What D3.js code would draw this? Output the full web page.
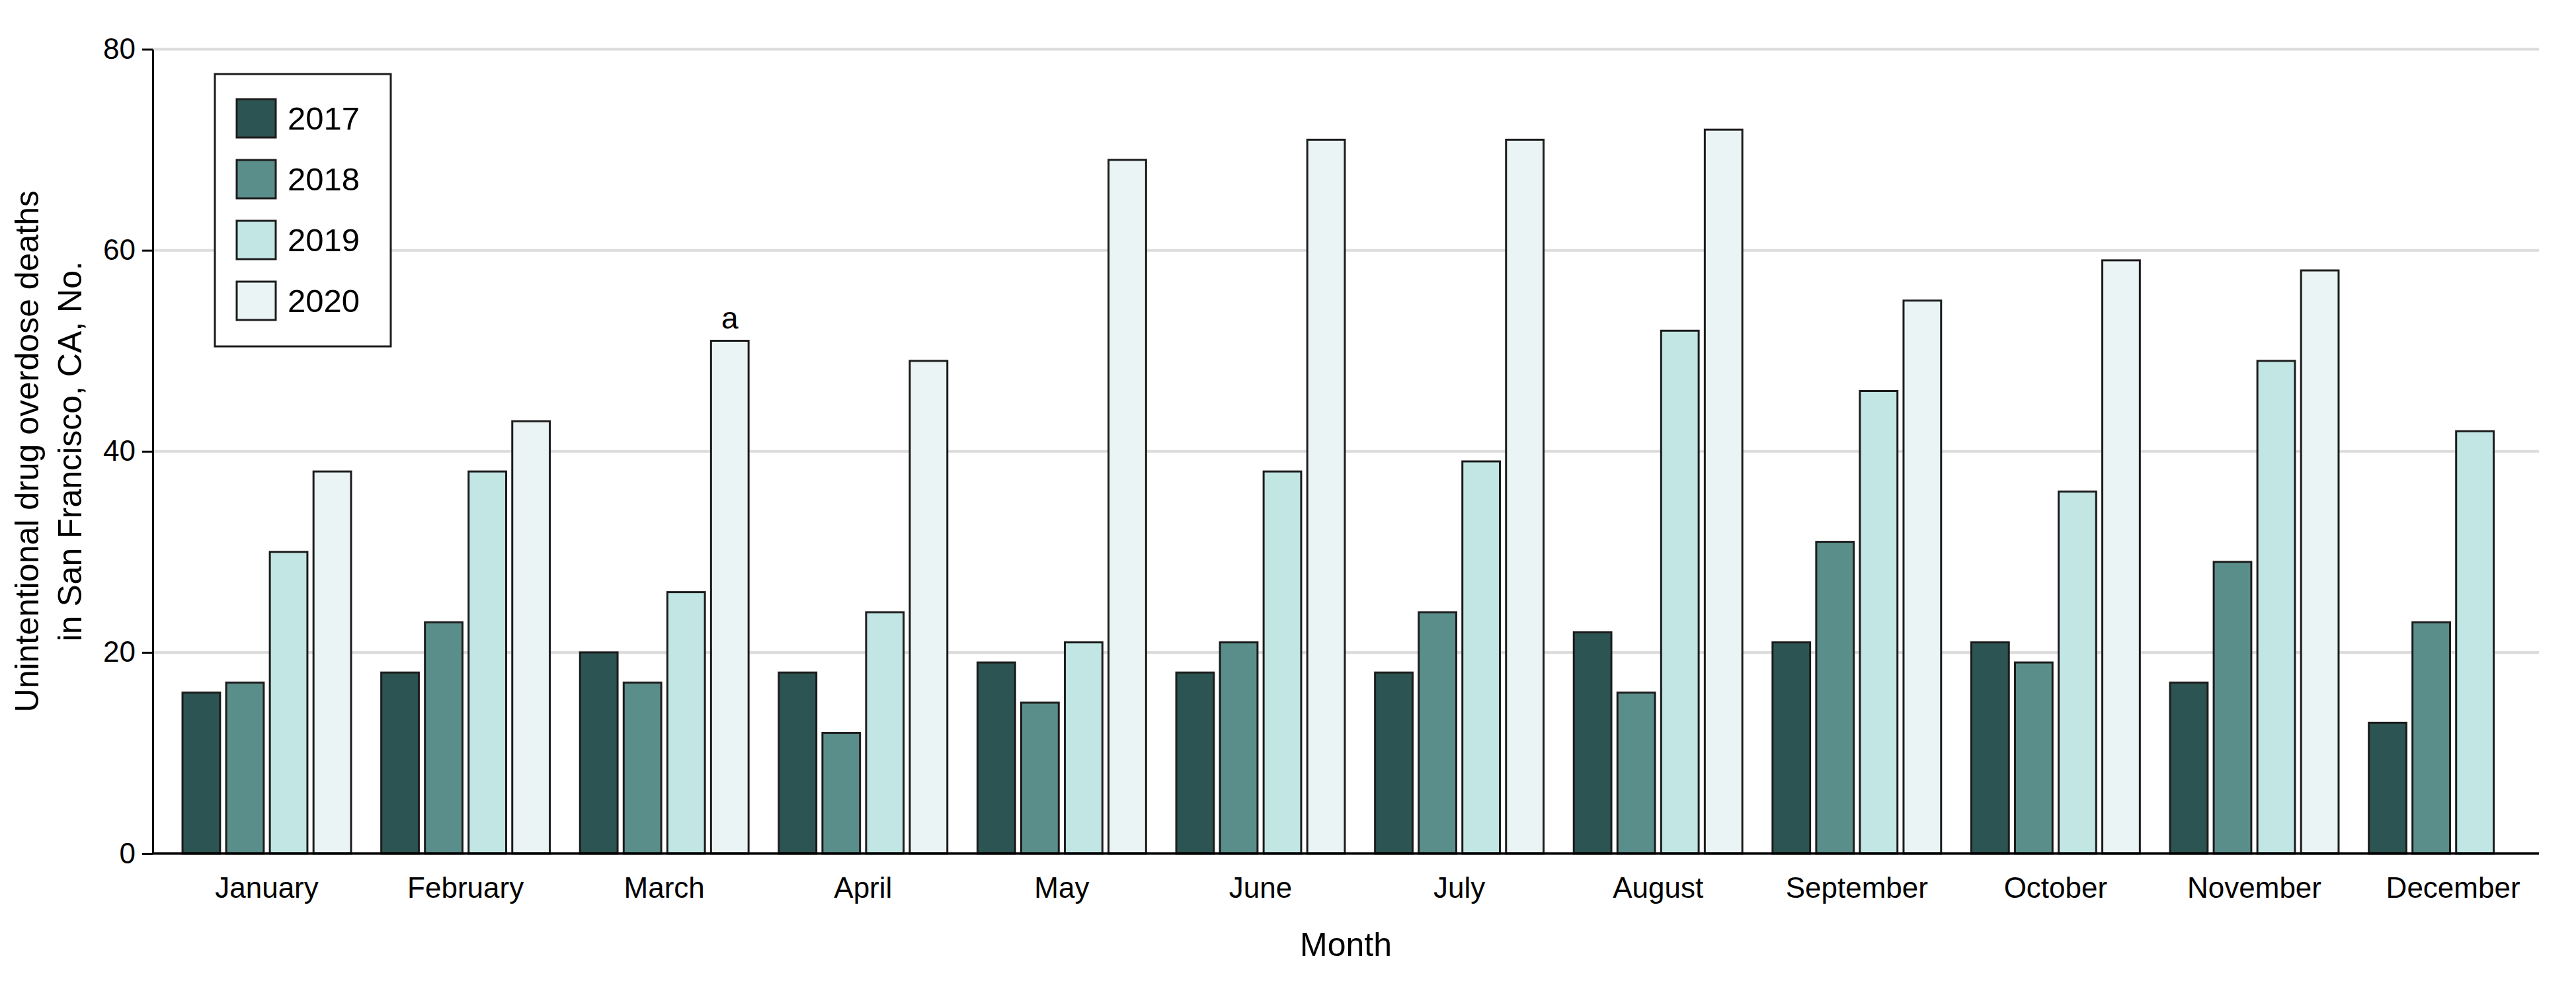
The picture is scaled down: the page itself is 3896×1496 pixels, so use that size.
<!DOCTYPE html>
<html>
<head>
<meta charset="utf-8">
<script src="https://cdn.jsdelivr.net/npm/d3@7"></script>
<style>
  body { margin: 0; background: #ffffff; }
  figure { margin: 0; }
  svg text { font-family: "Liberation Sans", Arial, sans-serif; fill: #000; }
</style>
</head>
<body>
<figure id="overdose-deaths"></figure>
<script>
// Months on the x axis
const months = ["January", "February", "March", "April", "May", "June",
  "July", "August", "September", "October", "November", "December"];
const years = ["2017", "2018", "2019", "2020"];

// Deaths per month, one array per year (no December 2020 value)
const deaths2017 = [16, 18, 20, 18, 19, 18, 18, 22, 21, 21, 17, 13];
const deaths2018 = [17, 23, 17, 12, 15, 21, 24, 16, 31, 19, 29, 23];
const deaths2019 = [30, 38, 26, 24, 21, 38, 39, 52, 46, 36, 49, 42];
const deaths2020 = [38, 43, 51, 49, 69, 71, 71, 72, 55, 59, 58, null];

const yTicks = [0, 20, 40, 60, 80];
// footnote marker sits above March 2020
const noteMonth = "March";
const noteYear = "2020";
const noteText = "a";

const yearColors = ["#2c5452", "#5a8e8b", "#c1e6e4", "#eaf4f5"];

const series = [deaths2017, deaths2018, deaths2019, deaths2020];
const rows = [];
months.forEach((m, i) => {
  years.forEach((yr, j) => {
    if (series[j][i] != null) rows.push({ month: m, year: yr, value: series[j][i] });
  });
});

const totalWidth = 3896;
const totalHeight = 1496;
const margin = { top: 74.5, right: 56, bottom: 205, left: 231 };
const width = totalWidth - margin.left - margin.right;
const height = totalHeight - margin.top - margin.bottom;

const svg = d3.select("figure#overdose-deaths")
  .append("svg")
  .attr("width", totalWidth)
  .attr("height", totalHeight)
  .append("g")
  .attr("transform", "translate(" + margin.left + "," + margin.top + ")");

// Scales
const x = d3.scaleBand()
  .domain(months)
  .range([22.2, width + 20.4])
  .paddingInner(0.152)
  .paddingOuter(0.076);

const xYear = d3.scaleBand()
  .domain(years)
  .range([0, x.bandwidth()])
  .paddingInner(0.14);

const y = d3.scaleLinear()
  .domain([0, 80])
  .range([height, 0]);

const color = d3.scaleOrdinal().domain(years).range(yearColors);

// Gridlines
svg.append("g")
  .selectAll("line")
  .data(yTicks.filter(t => t > 0))
  .enter()
  .append("line")
  .attr("x1", 0)
  .attr("x2", width)
  .attr("y1", d => y(d))
  .attr("y2", d => y(d))
  .attr("stroke", "#dcdcdc")
  .attr("stroke-width", 4);

// Bars
svg.append("g")
  .selectAll("rect")
  .data(rows)
  .enter()
  .append("rect")
  .attr("x", d => x(d.month) + xYear(d.year))
  .attr("y", d => y(d.value))
  .attr("width", xYear.bandwidth())
  .attr("height", d => height - y(d.value))
  .attr("fill", d => color(d.year))
  .attr("stroke", "#1c1c1c")
  .attr("stroke-width", 3);

// Footnote letter
const noteRow = rows.find(d => d.month === noteMonth && d.year === noteYear);
svg.append("text")
  .attr("x", x(noteMonth) + xYear(noteYear) + xYear.bandwidth() / 2)
  .attr("y", y(noteRow.value) - 18)
  .attr("text-anchor", "middle")
  .style("font-size", "46px")
  .text(noteText);

// Y axis
const yaxis = svg.append("g")
  .call(d3.axisLeft(y).tickValues(yTicks).tickSize(16).tickSizeOuter(0).tickPadding(10));
yaxis.select(".domain").attr("stroke", "#000").attr("stroke-width", 3);
yaxis.selectAll(".tick line").attr("stroke", "#000").attr("stroke-width", 3);
yaxis.selectAll("text").style("font-size", "44px").attr("font-family", null);

// X axis
const xaxis = svg.append("g")
  .attr("transform", "translate(0," + height + ")")
  .call(d3.axisBottom(x).tickSize(0).tickPadding(36));
xaxis.select(".domain").remove();
xaxis.selectAll("text").style("font-size", "44px").attr("font-family", null);

svg.append("line")
  .attr("x1", 0)
  .attr("x2", width)
  .attr("y1", height)
  .attr("y2", height)
  .attr("stroke", "#000")
  .attr("stroke-width", 3.5);

// X axis title
svg.append("text")
  .attr("text-anchor", "middle")
  .attr("x", width / 2)
  .attr("y", height + 155)
  .style("font-size", "50px")
  .text("Month");

// Y axis title (two lines)
const yTitle = svg.append("text")
  .attr("text-anchor", "middle")
  .attr("transform", "rotate(-90)")
  .style("font-size", "50px");
yTitle.append("tspan")
  .attr("x", -height / 2)
  .attr("y", 58 - margin.left)
  .text("Unintentional drug overdose deaths");
yTitle.append("tspan")
  .attr("x", -height / 2)
  .attr("y", 123 - margin.left)
  .text("in San Francisco, CA, No.");

// Legend
const legend = svg.append("g")
  .attr("transform", "translate(" + (325 - margin.left) + "," + (112 - margin.top) + ")");
legend.append("rect")
  .attr("width", 266)
  .attr("height", 412)
  .attr("fill", "#fff")
  .attr("stroke", "#1c1c1c")
  .attr("stroke-width", 3);

const items = legend.selectAll("g.item")
  .data(years)
  .enter()
  .append("g")
  .attr("class", "item")
  .attr("transform", (d, i) => "translate(33," + (38 + i * 92) + ")");
items.append("rect")
  .attr("width", 59)
  .attr("height", 58)
  .attr("fill", d => color(d))
  .attr("stroke", "#1c1c1c")
  .attr("stroke-width", 3);
items.append("text")
  .attr("x", 77)
  .attr("y", 46)
  .style("font-size", "49px")
  .text(d => d);
</script>
</body>
</html>
